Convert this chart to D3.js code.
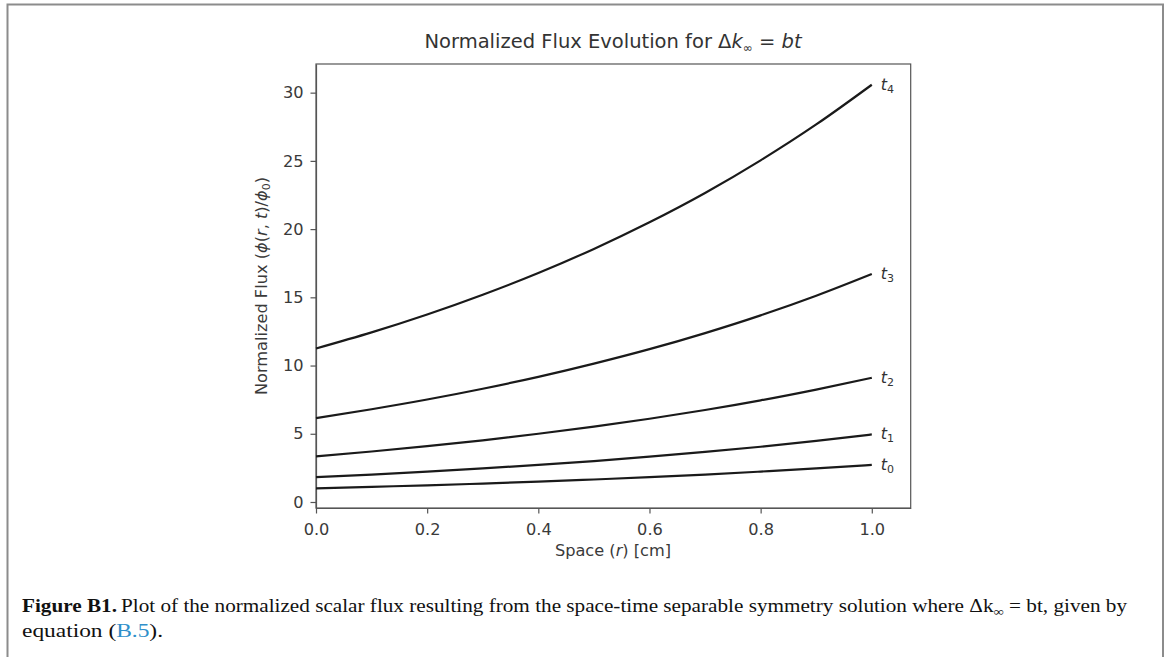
<!DOCTYPE html>
<html>
  <head>
    <meta charset="UTF-8" />
    <style>
      body {
        margin: 0;
        background: #fff;
      }
      svg {
        display: block;
      }
      .tick text {
        font-family: "DejaVu Sans";
        font-size: 16.2px;
        fill: #3a3a3a;
      }
      .axis path,
      .axis line {
        stroke: #555;
        stroke-width: 1.2;
      }
    </style>
  </head>
  <body>
    <svg></svg>
    <script src="https://d3js.org/d3.v7.min.js"></script>
    <script>
      let width = 1170,
        height = 657;

      // data: r positions and normalized flux per time step
      let rValues = [0, 0.1, 0.2, 0.3, 0.4, 0.5, 0.6, 0.7, 0.8, 0.9, 1.0];
      let fluxT0 = [1.0, 1.11, 1.22, 1.35, 1.49, 1.65, 1.82, 2.01, 2.23, 2.46, 2.72];
      let fluxT1 = [1.82, 2.01, 2.22, 2.46, 2.72, 3.0, 3.32, 3.67, 4.05, 4.48, 4.95];
      let fluxT2 = [3.35, 3.7, 4.09, 4.52, 5.0, 5.52, 6.1, 6.74, 7.45, 8.24, 9.1];
      let fluxT3 = [6.15, 6.8, 7.51, 8.3, 9.17, 10.14, 11.2, 12.38, 13.68, 15.12, 16.71];
      let fluxT4 = [11.25, 12.43, 13.74, 15.19, 16.78, 18.55, 20.5, 22.65, 25.04, 27.67, 30.58];
      let seriesNames = ["0", "1", "2", "3", "4"];
      let xTicks = [0, 0.2, 0.4, 0.6, 0.8, 1.0];
      let yTicks = [0, 5, 10, 15, 20, 25, 30];

      let allSeries = [fluxT0, fluxT1, fluxT2, fluxT3, fluxT4];

      let svg = d3.select("svg").attr("width", width).attr("height", height);

      // outer page frame
      svg
        .append("rect")
        .attr("x", 7.5)
        .attr("y", 4.5)
        .attr("width", 1155.5)
        .attr("height", 700)
        .attr("fill", "none")
        .attr("stroke", "#8c8c8c")
        .attr("stroke-width", 2);

      // scales
      let x = d3.scaleLinear().domain([0, 1.07]).range([316, 910.7]);
      let y = d3.scaleLinear().domain([-0.44, 32.1]).range([508, 64]);

      //Axes
      svg
        .append("g")
        .attr("class", "axis")
        .attr("transform", "translate(0,508)")
        .call(
          d3
            .axisBottom(x)
            .tickValues(xTicks)
            .tickFormat(d3.format(".1f"))
            .tickSize(5.5)
            .tickSizeOuter(0)
            .tickPadding(10)
        );

      svg
        .append("g")
        .attr("class", "axis")
        .attr("transform", "translate(316,0)")
        .call(
          d3
            .axisLeft(y)
            .tickValues(yTicks)
            .tickSize(5.5)
            .tickSizeOuter(0)
            .tickPadding(7)
        );

      // box around the plot
      svg
        .append("rect")
        .attr("x", x(0))
        .attr("y", y(32.1))
        .attr("width", x(1.07) - x(0))
        .attr("height", y(-0.44) - y(32.1))
        .attr("fill", "none")
        .attr("stroke", "#555")
        .attr("stroke-width", 1.2);

      //Lines
      let line = d3
        .line()
        .x((d, i) => x(rValues[i]))
        .y((d) => y(d))
        .curve(d3.curveMonotoneX);

      svg
        .append("g")
        .selectAll("path")
        .data(allSeries)
        .enter()
        .append("path")
        .attr("d", line)
        .attr("fill", "none")
        .attr("stroke", "#1a1a1a")
        .attr("stroke-width", 2.2);

      // curve labels t0..t4
      let labels = svg
        .append("g")
        .selectAll("text")
        .data(allSeries)
        .enter()
        .append("text")
        .attr("x", x(1.0) + 9)
        .attr("y", (d) => y(d[d.length - 1]) + 5)
        .style("font-family", "DejaVu Sans")
        .style("font-size", "16px")
        .style("fill", "#333");

      labels.append("tspan").style("font-style", "italic").text("t");
      labels
        .append("tspan")
        .attr("dy", 3)
        .style("font-size", "11px")
        .text((d, i) => seriesNames[i]);

      // title
      let title = svg
        .append("text")
        .attr("x", 613)
        .attr("y", 48)
        .attr("text-anchor", "middle")
        .style("font-family", "DejaVu Sans")
        .style("font-size", "19.5px")
        .style("fill", "#333");
      title.append("tspan").text("Normalized Flux Evolution for Δ");
      title.append("tspan").style("font-style", "italic").text("k");
      title.append("tspan").attr("dy", 4).style("font-size", "12px").text("∞");
      title.append("tspan").attr("dy", -4).text(" = ");
      title.append("tspan").style("font-style", "italic").text("bt");

      // x label
      let xLabel = svg
        .append("text")
        .attr("x", 613)
        .attr("y", 556)
        .attr("text-anchor", "middle")
        .style("font-family", "DejaVu Sans")
        .style("font-size", "16.2px")
        .style("fill", "#3a3a3a");
      xLabel.append("tspan").text("Space (");
      xLabel.append("tspan").style("font-style", "italic").text("r");
      xLabel.append("tspan").text(") [cm]");

      // y label
      let yLabel = svg
        .append("text")
        .attr("transform", "translate(267,286) rotate(-90)")
        .attr("text-anchor", "middle")
        .style("font-family", "DejaVu Sans")
        .style("font-size", "16.2px")
        .style("fill", "#3a3a3a");
      yLabel.append("tspan").text("Normalized Flux (");
      yLabel.append("tspan").style("font-style", "italic").text("ϕ");
      yLabel.append("tspan").text("(");
      yLabel.append("tspan").style("font-style", "italic").text("r");
      yLabel.append("tspan").text(", ");
      yLabel.append("tspan").style("font-style", "italic").text("t");
      yLabel.append("tspan").text(")/");
      yLabel.append("tspan").style("font-style", "italic").text("ϕ");
      yLabel.append("tspan").attr("dy", 3).style("font-size", "11px").text("0");
      yLabel.append("tspan").attr("dy", -3).text(")");

      // caption
      svg
        .append("text")
        .attr("x", 22)
        .attr("y", 612)
        .attr("textLength", 95)
        .attr("lengthAdjust", "spacingAndGlyphs")
        .style("font-family", "Liberation Serif")
        .style("font-size", "19px")
        .style("font-weight", "bold")
        .style("fill", "#111")
        .text("Figure B1.");

      let cap1 = svg
        .append("text")
        .attr("x", 121)
        .attr("y", 612)
        .attr("textLength", 1006)
        .attr("lengthAdjust", "spacingAndGlyphs")
        .style("font-family", "Liberation Serif")
        .style("font-size", "19px")
        .style("fill", "#111");
      cap1
        .append("tspan")
        .text(
          "Plot of the normalized scalar flux resulting from the space-time separable symmetry solution where Δk"
        );
      cap1.append("tspan").attr("dy", 4).style("font-size", "13px").text("∞");
      cap1.append("tspan").attr("dy", -4).text(" = bt, given by");

      let cap2 = svg
        .append("text")
        .attr("x", 22)
        .attr("y", 637)
        .attr("textLength", 141)
        .attr("lengthAdjust", "spacingAndGlyphs")
        .style("font-family", "Liberation Serif")
        .style("font-size", "19px")
        .style("fill", "#111");
      cap2.append("tspan").text("equation (");
      cap2.append("tspan").style("fill", "#2f8fca").text("B.5");
      cap2.append("tspan").text(").");
    </script>
  </body>
</html>
